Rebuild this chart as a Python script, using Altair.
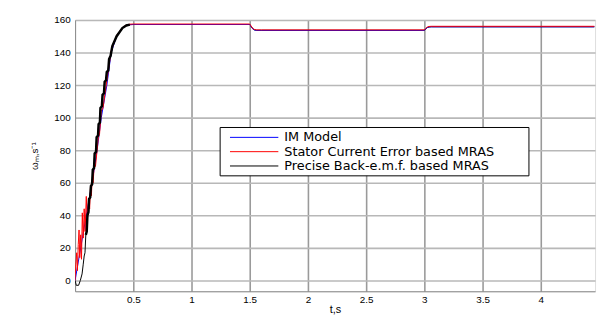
import altair as alt
import pandas as pd

# ---- data ----
series_names = ["IM Model", "Stator Current Error based MRAS", "Precise Back-e.m.f. based MRAS"]
series_colors = ["#0000ff", "#ff0000", "#000000"]

blue_t = [0, 0.048, 0.096, 0.146, 0.189, 0.225, 0.273, 0.31, 0.357, 0.406, 0.44, 0.47, 0.5,
          1.5, 1.51, 1.525, 1.54, 1.56, 1.6, 3.0, 3.01, 3.025, 3.04, 3.06, 4.46]
blue_w = [0, 20, 40, 60, 80, 100, 120, 140, 150, 155, 156.6, 157.1, 157.2,
          157.2, 156.2, 154.6, 153.9, 153.6, 153.6, 153.6, 154.4, 155.3, 155.7, 155.8, 155.8]

red_t = [0, 0.006, 0.014, 0.02, 0.027, 0.034, 0.04, 0.048, 0.055, 0.062, 0.07, 0.078, 0.086,
         0.096, 0.105, 0.115, 0.125, 0.133, 0.14, 0.146, 0.155, 0.165, 0.175, 0.189, 0.2, 0.21,
         0.225, 0.24, 0.255, 0.273, 0.29, 0.31, 0.357, 0.406, 0.44, 0.47, 0.5,
         1.5, 1.51, 1.525, 1.54, 1.56, 1.6, 3.0, 3.01, 3.025, 3.04, 3.06, 4.46]
red_w = [0, 10, 17, 6, 22, 31, 14, 28, 13, 41.5, 26, 44, 30,
         51.6, 36, 50, 44, 58.7, 52, 62, 60, 72, 70, 80, 88, 90,
         104, 106, 114, 123, 131, 141, 150.5, 155.3, 156.9, 157.4, 157.5,
         157.5, 156.5, 154.9, 154.2, 153.9, 153.9, 153.9, 154.7, 155.6, 156.0, 156.1, 156.1]

black_t = [0, 0.01, 0.03, 0.045, 0.06, 0.07, 0.078, 0.085, 0.092, 0.1, 0.106, 0.115, 0.12,
           0.13, 0.136, 0.146, 0.152, 0.163, 0.168, 0.18, 0.185, 0.197, 0.202, 0.213, 0.218,
           0.23, 0.236, 0.248, 0.254, 0.266, 0.272, 0.285, 0.292, 0.305, 0.32, 0.357, 0.406,
           0.44, 0.47, 0.5, 1.5, 1.51, 1.525, 1.54, 1.56, 1.6, 3.0, 3.01, 3.025, 3.04, 3.06, 4.46]
black_w = [0, -3, -3, 0, 4, 10, 15, 17, 28, 30, 40, 42, 50,
           51, 58, 59, 68, 69, 78, 79, 88, 89, 96, 97, 106,
           107, 114, 115, 122, 123, 128, 129, 136, 138, 144, 150, 155,
           156.6, 157.1, 157.2, 157.2, 156.2, 154.6, 153.9, 153.6, 153.6, 153.6, 154.4, 155.3,
           155.7, 155.8, 155.8]

x_ticks = [0.5, 1, 1.5, 2, 2.5, 3, 3.5, 4]
y_ticks = [0, 20, 40, 60, 80, 100, 120, 140, 160]
x_domain = [0, 4.4661]
y_domain = [-6.6667, 160]

series_t = [blue_t, red_t, black_t]
series_w = [blue_w, red_w, black_w]

FONT = "DejaVu Sans"
W, H = 527, 275

xs = alt.Scale(domain=x_domain, nice=False, zero=False)
ys = alt.Scale(domain=y_domain, nice=False, zero=False)

x_axis = alt.Axis(
    values=x_ticks, format="~g", title="t,s", grid=True, ticks=False, labelPadding=3,
    labelFlush=False, labelOverlap=False, titlePadding=0, titleFontWeight="normal",
    titleFontSize=11, gridColor="#9a9a9a", gridOpacity=1, gridWidth=1.6)
y_axis = alt.Axis(
    values=y_ticks, format="d", title="ωₘ,s⁻¹", grid=True, ticks=False, labelPadding=5,
    labelOverlap=False, labelFlush=False, gridColor="#b8b8b8", gridOpacity=1, gridWidth=1.6,
    titlePadding=14, titleFontWeight="normal", titleFontSize=10)

x_enc = alt.X("t:Q", scale=xs, axis=x_axis)
y_enc = alt.Y("w:Q", scale=ys, axis=y_axis)


def series_df(k):
    return pd.DataFrame({"t": series_t[k], "w": series_w[k],
                         "order": list(range(len(series_t[k])))})


def line_layer(k, data=None, width=1.0):
    d = series_df(k) if data is None else data
    return alt.Chart(d).mark_line(strokeWidth=width, color=series_colors[k], clip=True).encode(
        x=x_enc, y=y_enc, order="order:Q")


black_df = series_df(2)
black_thick_df = black_df[(black_df.t >= 0.09) & (black_df.t <= 0.47)]

layers = [
    line_layer(2),                 # precise back-emf (thin, underneath)
    line_layer(0),                 # IM model
    line_layer(1),                 # stator current error MRAS
    line_layer(2, black_thick_df, 2.5),  # chattering part of back-emf estimate
]

# manual legend (pixel positions inside plot area)
lx0, lx1, ly0, ly1 = 147, 460, 109, 158
legend_box = alt.Chart(pd.DataFrame({"a": [0]})).mark_rect(
    fill="white", stroke="black", strokeWidth=1).encode(
    x=alt.value(lx0), x2=alt.value(lx1), y=alt.value(ly0), y2=alt.value(ly1))
layers.append(legend_box)
row_y = [119, 133.5, 148]
for name, col, yy in zip(series_names, series_colors, row_y):
    layers.append(alt.Chart(pd.DataFrame({"a": [0]})).mark_rule(
        color=col, strokeWidth=1).encode(x=alt.value(157), x2=alt.value(206), y=alt.value(yy)))
    layers.append(alt.Chart(pd.DataFrame({"a": [0]})).mark_text(
        text=name, align="left", baseline="middle", font=FONT, fontSize=13, color="black").encode(
        x=alt.value(212), y=alt.value(yy)))

chart = alt.layer(*layers).properties(
    width=W, height=H,
    autosize=alt.AutoSizeParams(type="none"),
    padding={"left": 68, "top": 10, "right": 4, "bottom": 27},
).configure_view(stroke="black", strokeWidth=1).configure_axis(
    labelFont=FONT, titleFont=FONT, labelFontSize=12, titleFontSize=12,
    labelColor="black", titleColor="black", domainColor="black",
).configure(background="white")

chart.save("out.html", embed_options={"renderer": "svg", "actions": False})
